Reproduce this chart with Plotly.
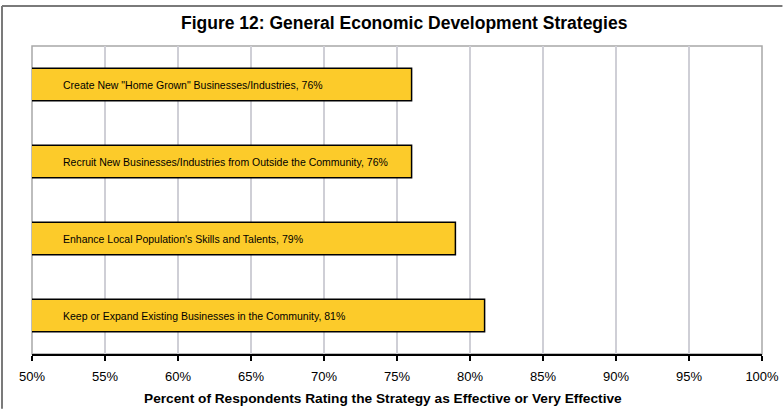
import plotly.graph_objects as go

# Strategies listed bottom-to-top, with share of respondents rating them effective
strategies = [
    "Keep or Expand Existing Businesses in the Community",
    "Enhance Local Population's Skills and Talents",
    "Recruit New Businesses/Industries from Outside the Community",
    'Create New "Home Grown" Businesses/Industries',
]
percent_effective = [81, 79, 76, 76]
tick_values = [50, 55, 60, 65, 70, 75, 80, 85, 90, 95, 100]
tick_labels = [f"{v}%" for v in tick_values]

FONT = "Liberation Sans, Arial, sans-serif"
BAR_FILL = "#FCCB2A"

fig = go.Figure(
    go.Bar(
        x=percent_effective,
        y=strategies,
        base=0,
        orientation="h",
        width=0.42,
        marker=dict(color=BAR_FILL, line=dict(color="black", width=1.5)),
        hoverinfo="skip",
    )
)

# Label each bar near its left end with the strategy name and value
for name, val in zip(strategies, percent_effective):
    fig.add_annotation(
        x=50, y=name, xref="x", yref="y",
        text=f"{name}, {val}%",
        showarrow=False, xanchor="left", xshift=29,
        font=dict(family=FONT, size=10.5, color="black"),
    )

# Outer chart frame: top and left edges
frame = dict(color="#7a7a7a", width=2)
fig.add_shape(type="line", xref="paper", yref="paper",
              x0=-0.0411, x1=1.028, y0=1.1299, y1=1.1299, line=frame)
fig.add_shape(type="line", xref="paper", yref="paper",
              x0=-0.0411, x1=-0.0411, y0=-0.178, y1=1.1299, line=frame)
# Plot-area box
fig.add_shape(
    type="rect", xref="x domain", yref="y domain",
    x0=0, x1=1, y0=0, y1=1,
    line=dict(color="#a8a8a8", width=1.5), layer="below",
)

fig.add_annotation(
    text="<b>Figure 12: General Economic Development Strategies</b>",
    xref="paper", yref="paper", x=0.5105, y=1.0,
    yshift=23, showarrow=False, yanchor="middle", xanchor="center",
    font=dict(family=FONT, size=17.5, color="black"),
)
fig.add_annotation(
    text="<b>Percent of Respondents Rating the Strategy as Effective or Very Effective</b>",
    xref="paper", yref="paper", x=0.4808, y=0,
    yshift=-44, showarrow=False, yanchor="middle", xanchor="center",
    font=dict(family=FONT, size=13.7, color="black"),
)

fig.update_xaxes(
    range=[50, 100],
    tickvals=tick_values, ticktext=tick_labels,
    tickfont=dict(family=FONT, size=13, color="black"),
    ticklabelstandoff=5,
    showgrid=True, gridcolor="#cfcfd6", gridwidth=1.5,
    showline=True, linecolor="black", linewidth=1.5,
    ticks="outside", ticklen=5, tickcolor="black", tickwidth=1.5,
    zeroline=False, fixedrange=True, automargin=False,
)
fig.update_yaxes(
    showticklabels=False, showgrid=False, zeroline=False,
    showline=False, range=[-0.5, 3.5], fixedrange=True, automargin=False,
)

fig.update_layout(
    width=783, height=409, autosize=False,
    margin=dict(l=32, r=21, t=46, b=55),
    plot_bgcolor="white", paper_bgcolor="white",
    showlegend=False, bargap=0.58,
    font=dict(family=FONT),
)

fig.write_html("out.html", config={"displayModeBar": False})
